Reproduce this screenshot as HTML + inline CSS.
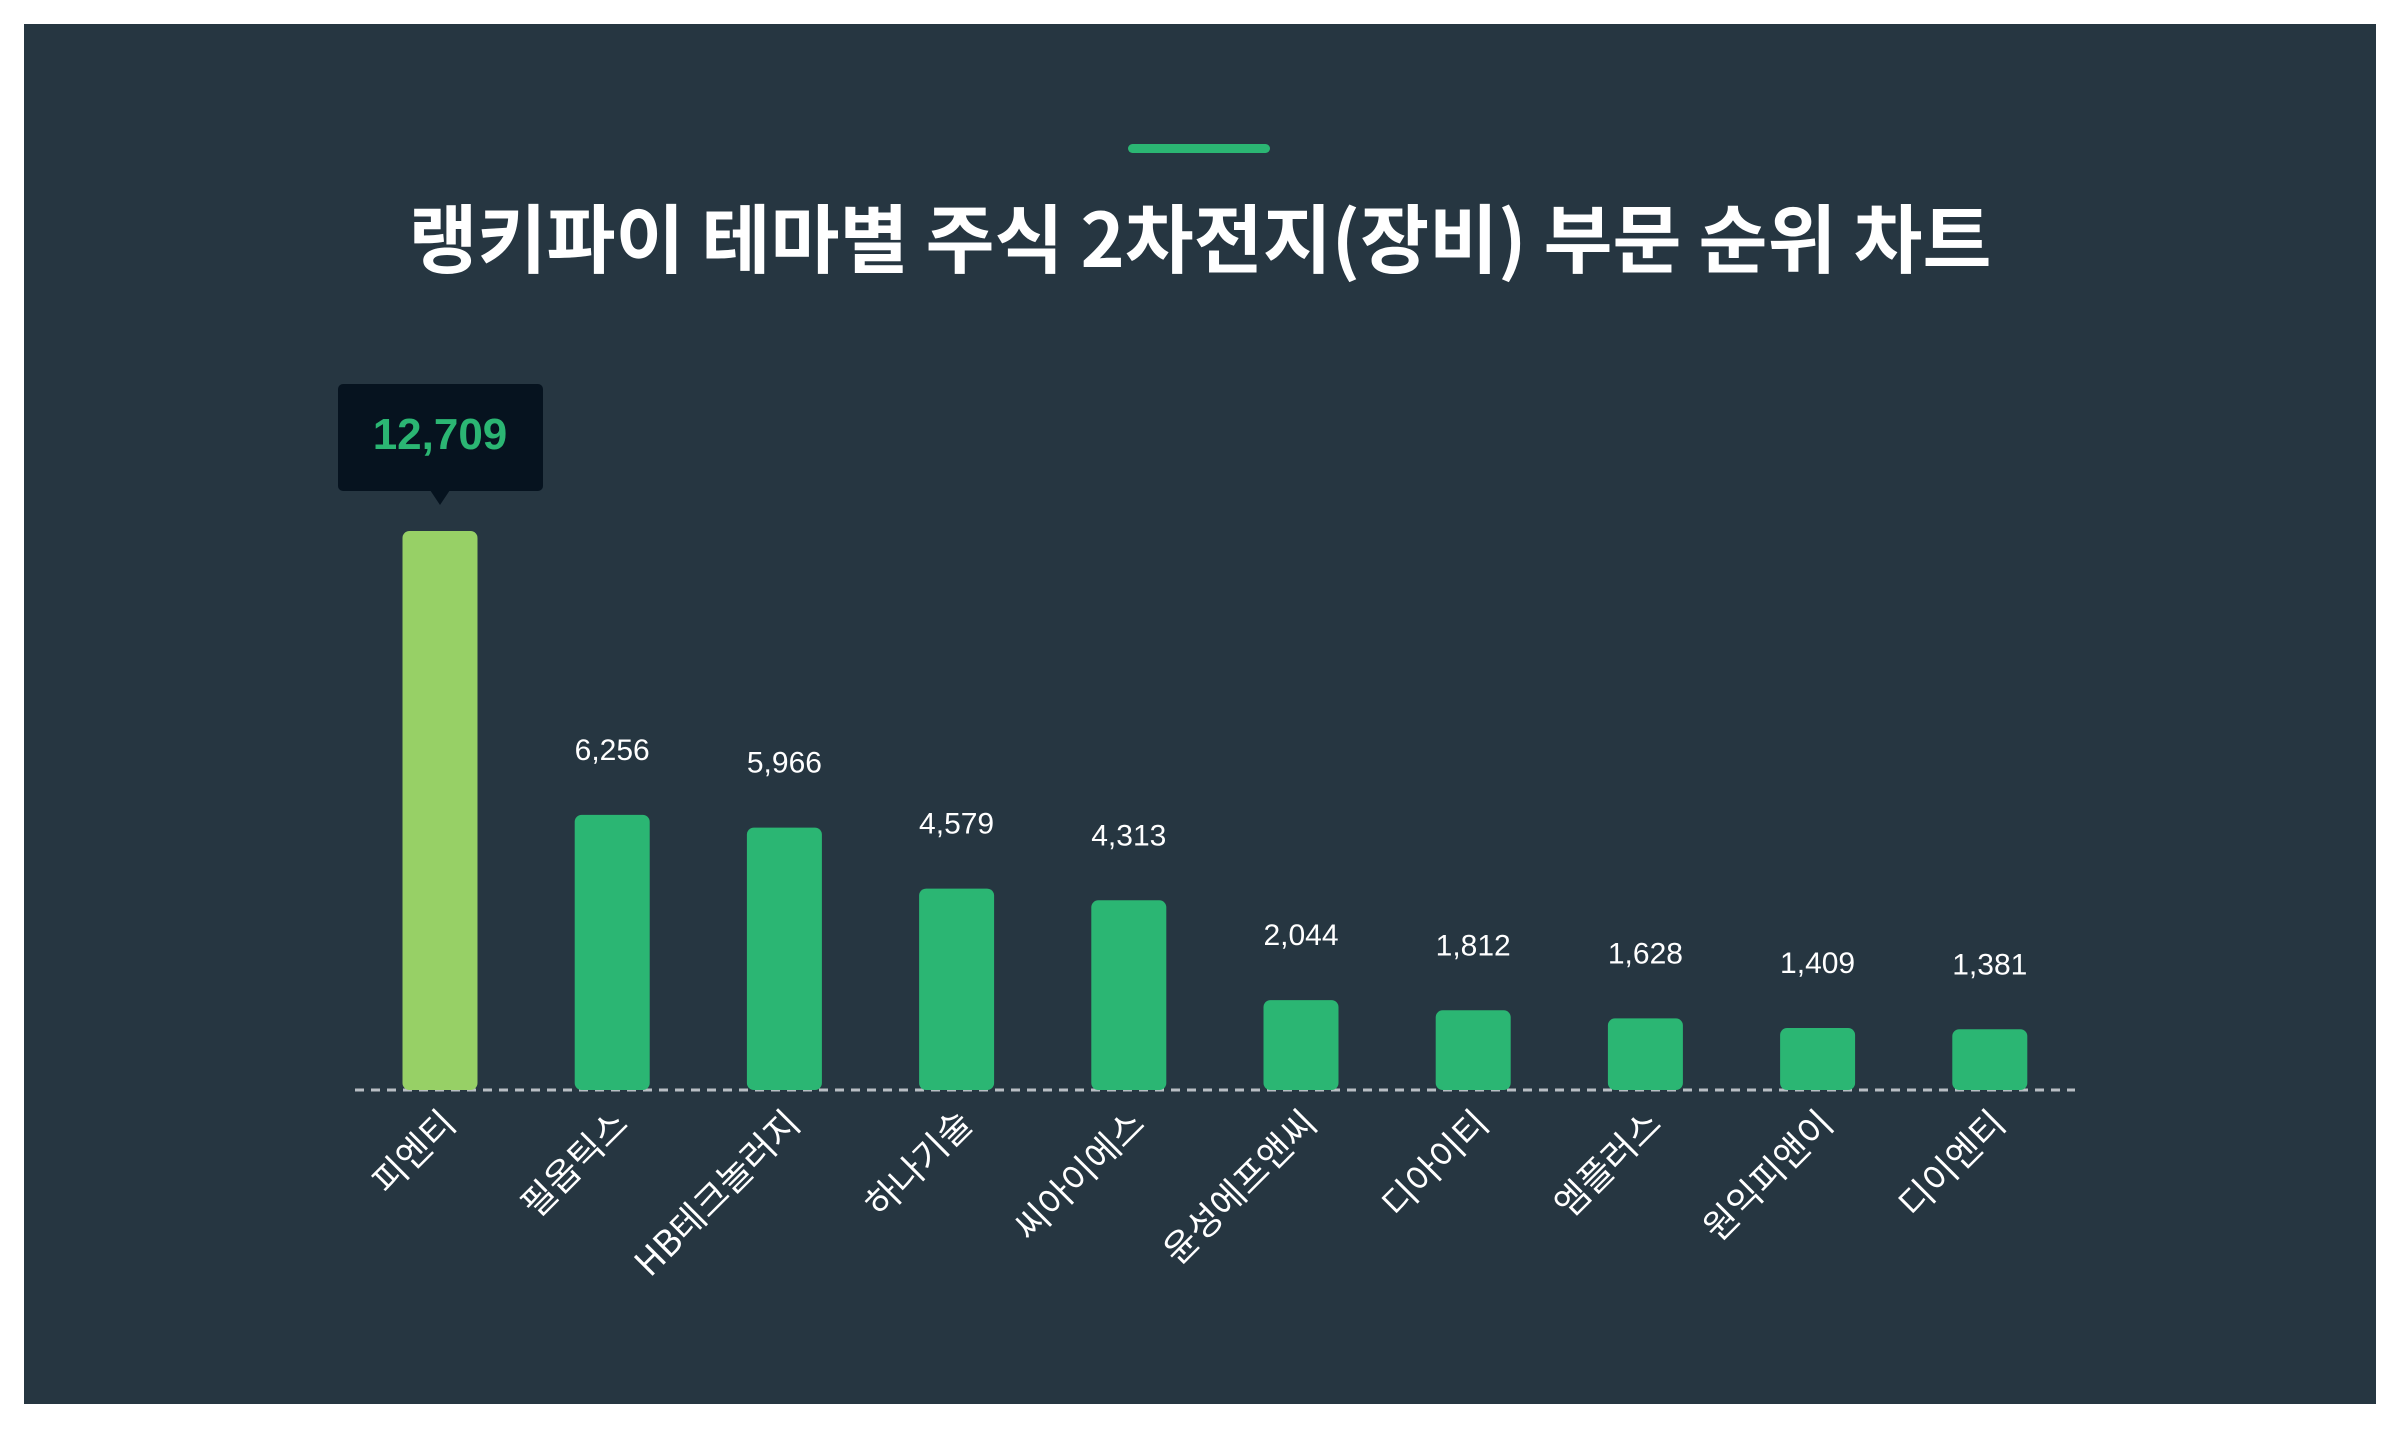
<!DOCTYPE html>
<html><head><meta charset="utf-8"><style>
html,body{margin:0;padding:0;background:#fff;}
svg{display:block;font-family:"Liberation Sans","Noto Sans CJK KR",sans-serif;}
</style></head><body>
<svg width="2400" height="1440" viewBox="0 0 2400 1440">
<rect x="24" y="24" width="2352" height="1380" fill="#263641"/>
<rect x="1128" y="144" width="142" height="9" rx="4.5" fill="#2bb673"/>
<text x="1200" y="267" text-anchor="middle" font-size="75" font-weight="bold" fill="#ffffff" font-family="'Noto Sans CJK KR',sans-serif">랭키파이 테마별 주식 2차전지(장비) 부문 순위 차트</text>
<g id="plot"></g>
</svg>
<script>
const categories=["피엔티","필옵틱스","HB테크놀러지","하나기술","씨아이에스","윤성에프앤씨","디아이티","엠플러스","원익피앤이","디이엔티"];
const values=[12709,6256,5966,4579,4313,2044,1812,1628,1409,1381];
const valueLabels=["12,709","6,256","5,966","4,579","4,313","2,044","1,812","1,628","1,409","1,381"];
const NS="http://www.w3.org/2000/svg";
const g=document.getElementById('plot');
const baseY=1090, x0=440, step=172.2, barW=75, pxPerUnit=559/12709;
function xScale(i){return x0+i*step;}
function yScale(v){return baseY-v*pxPerUnit;}
function mk(t,a){const e=document.createElementNS(NS,t);for(const k in a)e.setAttribute(k,a[k]);g.appendChild(e);return e;}
const axis=mk('line',{x1:355,x2:2075,y1:baseY,y2:baseY,stroke:'#b8bec4','stroke-width':3,'stroke-dasharray':'9 7'});


categories.forEach((c,i)=>{
  const cx=xScale(i), top=yScale(values[i]);
  const b=mk('rect',{x:cx-barW/2,y:top,width:barW,height:baseY-top,rx:7,fill:i===0?'#97d066':'#2bb673'});
  
  
  if(i===0){
    const tb=mk('rect',{x:cx-102,y:top-147,width:205,height:107,rx:5,fill:'#06131f'});
    
    
    const tp=mk('path',{d:`M${cx-10} ${top-41} L${cx+10} ${top-41} L${cx} ${top-26} Z`,fill:'#06131f'});
    
    
    const tt=mk('text',{x:cx,y:top-82,'text-anchor':'middle','font-size':44,'font-weight':'bold',fill:'#2bb673'});
    tt.textContent=valueLabels[i];
    
    
  } else {
    const vl=mk('text',{x:cx,y:top-55,'text-anchor':'middle','font-size':30,fill:'#ffffff'});
    vl.textContent=valueLabels[i];
    
    
  }
  const lab=mk('text',{x:0,y:0,'text-anchor':'end','font-size':36,fill:'#ffffff',transform:`translate(${cx+18},${baseY+36}) rotate(-45)`,'font-family':"'Noto Sans CJK KR',sans-serif"});
  lab.textContent=c;
  
  
});
</script>
</body></html>
